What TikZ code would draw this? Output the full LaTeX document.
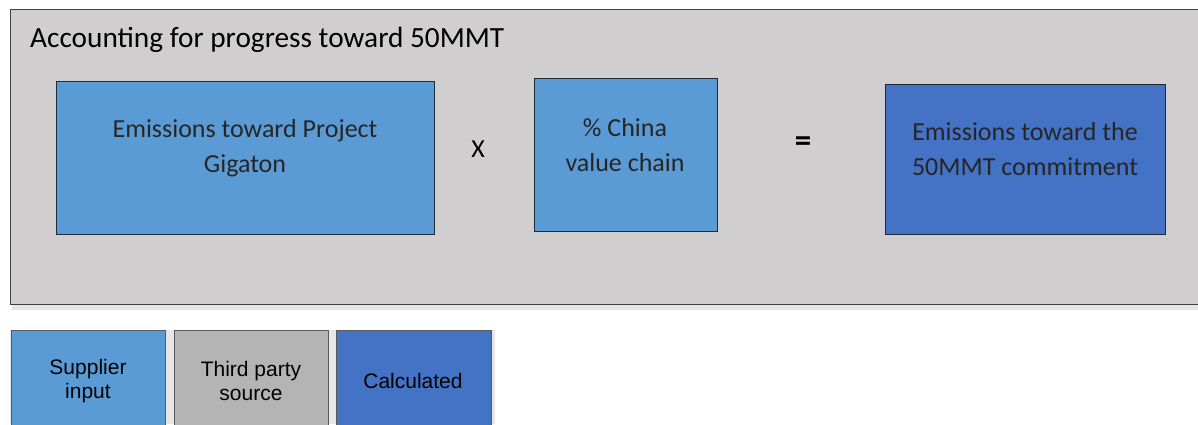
\documentclass[tikz,border=0pt]{standalone}
\usepackage{fontspec}
\setmainfont{Carlito}
\newfontfamily\arialf{Liberation Sans}
\definecolor{panelgray}{HTML}{D0CECE}
\definecolor{shadowgray}{HTML}{E7E6E6}
\definecolor{supblue}{HTML}{5B9BD5}
\definecolor{calcblue}{HTML}{4472C4}
\definecolor{thirdgray}{HTML}{B4B4B4}
\definecolor{boxedge}{HTML}{1E2A36}
\definecolor{legedge}{HTML}{5A5A5A}
\begin{document}
\begin{tikzpicture}[x=1pt,y=-1pt,
  mainbox/.style={draw=boxedge,line width=0.9pt,anchor=north west,inner sep=0pt},
  legbox/.style={draw=legedge,line width=1.3pt,anchor=north west,inner sep=0pt,minimum width=154pt,minimum height=100pt},
  boxtxt/.style={inner sep=0pt,align=center,text=black!85,font=\fontsize{26}{35}\selectfont},
  legtxt/.style={inner sep=0pt,align=center,text=black,font=\arialf\fontsize{21}{24.5}\selectfont}]
\useasboundingbox (0,0) rectangle (1198,424);
% background panel
\fill[shadowgray] (12,304) rectangle (1198,310);
\node[draw=black!75,line width=0.9pt,fill=panelgray,anchor=north west,inner sep=0pt,minimum width=1200pt,minimum height=295pt] (panel) at (10,9) {};
\node[anchor=base west,inner sep=0pt,font=\fontsize{29.3}{36}\selectfont] (title) at (30,47) {Accounting for progress toward 50MMT};
% main boxes
\node[mainbox,fill=supblue,minimum width=378pt,minimum height=153pt] (b1) at (56,81) {};
\node[boxtxt] (t1) at (245,148) {Emissions toward Project\\Gigaton};
\node[font=\fontsize{26}{30}\selectfont,inner sep=0pt] (times) at (478,149) {X};
\node[mainbox,fill=supblue,minimum width=183pt,minimum height=153pt] (b2) at (534,78) {};
\node[boxtxt] (t2) at (625,145) {\% China\\value chain};
\node[font=\bfseries\fontsize{33}{36}\selectfont,inner sep=0pt] (eq) at (803,144.5) {=};
\node[mainbox,fill=calcblue,minimum width=280pt,minimum height=150pt] (b3) at (885,84) {};
\node[boxtxt] (t3) at (1025,149) {Emissions toward the\\50MMT commitment};
% legend
\fill[shadowgray] (10,330) rectangle (495,424);
\node[legbox,fill=supblue] (l1) at (11,330) {};
\node[legtxt] (lt1) at (88,381) {Supplier\\input};
\node[legbox,fill=thirdgray] (l2) at (174,330) {};
\node[legtxt] (lt2) at (251,381) {Third party\\source};
\node[legbox,fill=calcblue,minimum width=155pt] (l3) at (336,330) {};
\node[legtxt] (lt3) at (413,381) {Calculated};
\end{tikzpicture}
\end{document}
